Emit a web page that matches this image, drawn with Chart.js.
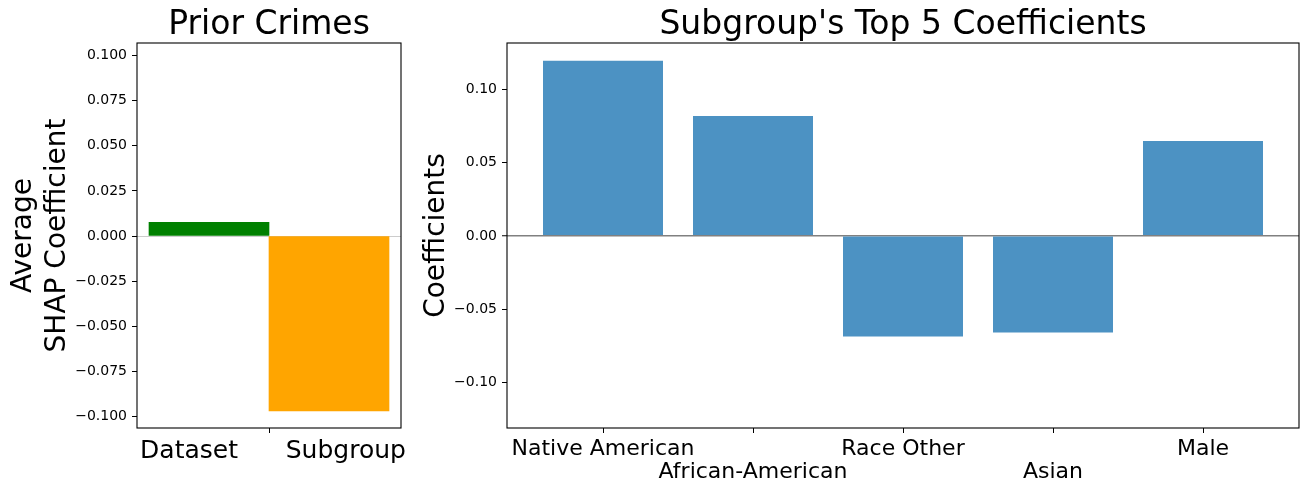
<!DOCTYPE html>
<html>
<head>
<meta charset="utf-8">
<script src="https://cdn.jsdelivr.net/npm/chart.js@4"></script>
<style>
body { margin: 0; background: #fff; width: 1309px; height: 491px; overflow: hidden; position: relative; }
canvas { position: absolute; top: 0; }
#priorChart { left: 0; }
#coefChart { left: 420px; }
</style>
</head>
<body>
<canvas id="priorChart" width="420" height="491"></canvas>
<canvas id="coefChart" width="889" height="491"></canvas>
<script>
"use strict";
const priorLabels = ["Dataset", "Subgroup"];
const priorValues = [0.0076, -0.0968];
const priorColors = ["#008000", "#ffa500"];
const priorYTicks = [-0.1, -0.075, -0.05, -0.025, 0, 0.025, 0.05, 0.075, 0.1];

const coefLabels = ["Native American", "African-American", "Race Other", "Asian", "Male"];
const coefValues = [0.1195, 0.0819, -0.0687, -0.066, 0.0648];
const coefYTicks = [-0.1, -0.05, 0, 0.05, 0.1];

const family = "DejaVu Sans";
const clear = "rgba(0,0,0,0)";

function fmt(v, digits) {
    if (Math.abs(v) < 1e-9) v = 0;
    return v.toFixed(digits).replace("-", "\u2212");
}

// matplotlib draws a full box round each axes
const boxPlugin = {
    id: "box",
    afterDraw(chart) {
        const {ctx, chartArea: a} = chart;
        ctx.save();
        ctx.strokeStyle = "#000";
        ctx.lineWidth = 1.1;
        ctx.strokeRect(a.left, a.top, a.right - a.left, a.bottom - a.top);
        ctx.restore();
    }
};

function zeroLine(color, width) {
    return {
        color: c => (c.tick && Math.abs(c.tick.value) < 1e-9) ? color : clear,
        lineWidth: c => (c.tick && Math.abs(c.tick.value) < 1e-9) ? width : 1,
        tickColor: "#000",
        tickLength: 5,
        tickWidth: 1
    };
}

function titleOpts(text) {
    return {
        display: true,
        text: text,
        fullSize: false,
        color: "#000",
        font: {family: family, size: 33, weight: "normal", lineHeight: 1},
        padding: {top: 9, bottom: 1}
    };
}

new Chart(document.getElementById("priorChart"), {
    type: "bar",
    data: {
        datasets: [{
            data: priorValues.map((v, i) => ({x: i - 0.5, y: v})),
            backgroundColor: priorColors,
            barPercentage: 1,
            categoryPercentage: 1
        }]
    },
    options: {
        responsive: false,
        animation: false,
        devicePixelRatio: 1,
        layout: {padding: {left: 0, right: 19, top: 0, bottom: 0}},
        plugins: {
            legend: {display: false},
            tooltip: {enabled: false},
            title: titleOpts("Prior Crimes")
        },
        scales: {
            x: {
                type: "linear",
                min: -1.1,
                max: 1.1,
                offset: false,
                afterBuildTicks: axis => { axis.ticks = [{value: 0}]; },
                afterFit: axis => { axis.height = 63; },
                ticks: {
                    callback: () => priorLabels.join("      "),
                    color: "#000",
                    font: {family: family, size: 25},
                    padding: 3,
                    labelOffset: 4,
                    maxRotation: 0,
                    minRotation: 0,
                    autoSkip: false
                },
                grid: {color: clear, tickColor: "#000", tickLength: 5, tickWidth: 1, offset: false},
                border: {display: false}
            },
            y: {
                min: -0.1063,
                max: 0.1069,
                afterBuildTicks: axis => { axis.ticks = priorYTicks.map(v => ({value: v})); },
                afterFit: axis => { axis.width = 137; },
                ticks: {
                    callback: v => fmt(v, 3),
                    color: "#000",
                    font: {family: family, size: 14},
                    padding: 5
                },
                grid: zeroLine("#cccccc", 1),
                border: {display: false},
                title: {
                    display: true,
                    text: ["Average", "SHAP Coefficient"],
                    color: "#000",
                    font: {family: family, size: 28, lineHeight: 1.2},
                    padding: {top: 7, bottom: 0}
                }
            }
        }
    },
    plugins: [boxPlugin]
});

new Chart(document.getElementById("coefChart"), {
    type: "bar",
    data: {
        datasets: [{
            data: coefValues.map((v, i) => ({x: i, y: v})),
            backgroundColor: "#4c92c3",
            barPercentage: 0.8,
            categoryPercentage: 1
        }]
    },
    options: {
        responsive: false,
        animation: false,
        devicePixelRatio: 1,
        layout: {padding: {left: 0, right: 10, top: 0, bottom: 0}},
        plugins: {
            legend: {display: false},
            tooltip: {enabled: false},
            title: titleOpts("Subgroup's Top 5 Coefficients")
        },
        scales: {
            x: {
                type: "linear",
                min: -0.64,
                max: 4.64,
                offset: false,
                afterBuildTicks: axis => { axis.ticks = coefLabels.map((c, i) => ({value: i})); },
                afterFit: axis => { axis.height = 63; },
                ticks: {
                    callback: (v, i) => i % 2 === 1 ? ["", coefLabels[i]] : coefLabels[i],
                    color: "#000",
                    font: {family: family, size: 22, lineHeight: 1.03},
                    padding: 5,
                    maxRotation: 0,
                    minRotation: 0,
                    autoSkip: false
                },
                grid: {color: clear, tickColor: "#000", tickLength: 5, tickWidth: 1, offset: false},
                border: {display: false}
            },
            y: {
                min: -0.1312,
                max: 0.1317,
                afterBuildTicks: axis => { axis.ticks = coefYTicks.map(v => ({value: v})); },
                afterFit: axis => { axis.width = 87; },
                ticks: {
                    callback: v => fmt(v, 2),
                    color: "#000",
                    font: {family: family, size: 14},
                    padding: 5
                },
                grid: zeroLine("#808080", 1.5),
                border: {display: false},
                title: {
                    display: true,
                    text: "Coefficients",
                    color: "#000",
                    font: {family: family, size: 28, lineHeight: 1.2},
                    padding: {top: 0, bottom: 0}
                }
            }
        }
    },
    plugins: [boxPlugin]
});
</script>
</body>
</html>
